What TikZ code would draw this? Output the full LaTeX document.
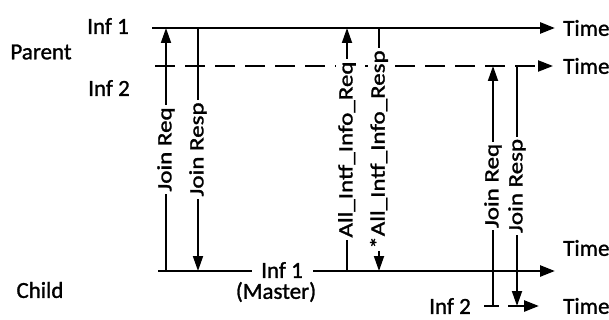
\documentclass[tikz,border=0pt]{standalone}
\usepackage{fontspec}
\setmainfont{Carlito}[FakeBold=1.2]
\usepackage{graphicx}
\usetikzlibrary{arrows.meta}

% vertical label helper (glyphs slightly condensed across the line)
\newcommand{\vlab}[1]{\scalebox{1}[0.82]{#1}}

\begin{document}
\begin{tikzpicture}[x=1pt,y=-1pt,
  tip/.tip={Triangle[length=15pt,width=11pt]},
  hline/.style={line width=2.6pt,-tip},
  hplain/.style={line width=2.6pt},
  dline/.style={line width=2.2pt,dash pattern=on 20pt off 10pt,-tip},
  vline/.style={line width=1.8pt,-{Triangle[length=15pt,width=10pt]}},
  lbl/.style={inner sep=0pt,font=\fontsize{23}{26}\selectfont},
  vlbl/.style={rotate=90,fill=white,inner sep=2pt,font=\fontsize{25}{28}\selectfont}]

\useasboundingbox (0,0) rectangle (609,320);

% side labels
\node[lbl] (parent) at (41,52) {Parent};
\node[lbl] (child) at (40,290) {Child};
\node[lbl] (pinf1) at (108,26) {Inf 1};
\node[lbl] (pinf2) at (109,88) {Inf 2};

% parent interface 1 time line
\coordinate (P1s) at (152,28);
\coordinate (P1e) at (555,28);
\draw[hline] (P1s) -- (P1e);
\node[lbl,anchor=west] (time1) at (563,28) {Time};

% parent interface 2 time line (dashed)
\coordinate (P2s) at (155,66);
\coordinate (P2e) at (553,66);
\draw[dline] (P2s) -- (P2e);
\node[lbl,anchor=west] (time2) at (563,66) {Time};

% child interface 1 (master) time line
\coordinate (C1a) at (158,271);
\coordinate (C1b) at (252,271);
\node[lbl] (cinf1) at (282,270) {Inf 1};
\node[lbl] (master) at (276,292) {(Master)};
\coordinate (C1c) at (313,271);
\coordinate (C1d) at (555,271);
\draw[hplain] (C1a) -- (C1b);
\draw[hline] (C1c) -- (C1d);
\node[lbl,anchor=west] (time3) at (563,248) {Time};

% child interface 2 time line
\node[lbl] (cinf2) at (450,306) {Inf 2};
\coordinate (C2a) at (484,306);
\coordinate (C2b) at (499,306);
\coordinate (C2c) at (508,306);
\coordinate (C2d) at (539,306);
\draw[hplain] (C2a) -- (C2b);
\draw[hline] (C2c) -- (C2d);
\node[lbl,anchor=west] (time4) at (563,306) {Time};

% message end points
\coordinate (jq1b) at (166,271);  \coordinate (jq1t) at (166,28);
\coordinate (js1t) at (198,28);   \coordinate (js1b) at (198,271);
\coordinate (aq1b) at (347,271);  \coordinate (aq1t) at (347,28);
\coordinate (as1t) at (379,28);   \coordinate (as1b) at (379,271);
\coordinate (jq2b) at (493,306);  \coordinate (jq2t) at (493,66);
\coordinate (js2t) at (517,66);   \coordinate (js2b) at (517,306);

% messages
\draw[vline] (jq1b) -- node[vlbl] (l1) {\vlab{Join Req}} (jq1t);
\draw[vline] (js1t) -- node[vlbl] (l2) {\vlab{Join Resp}} (js1b);
\draw[vline] (aq1b) -- node[vlbl] (l3) {\vlab{All\_Intf\_Info\_Req}} (aq1t);
\draw[vline] (as1t) -- node[vlbl] (l4) {\vlab{*All\_Intf\_Info\_Resp}} (as1b);
\draw[vline] (jq2b) -- node[vlbl] (l5) {\vlab{Join Req}} (jq2t);
\draw[vline] (js2t) -- node[vlbl] (l6) {\vlab{Join Resp}} (js2b);
\end{tikzpicture}
\end{document}
